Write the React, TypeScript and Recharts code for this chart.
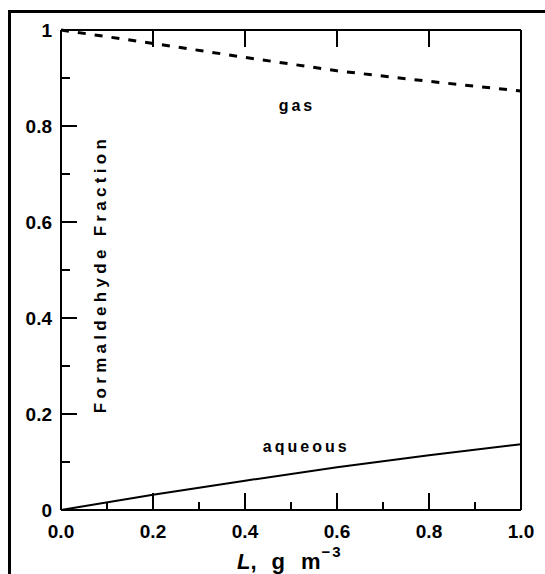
import { LineChart, Line, XAxis, YAxis, ReferenceDot } from "recharts";

// liquid water content L (g m^-3) and the formaldehyde split
const loading = [0, 0.2, 0.4, 0.6, 0.8, 1.0];
const gasFraction = [1, 0.972, 0.943, 0.915, 0.893, 0.873];
const aqueousFraction = [0, 0.032, 0.061, 0.089, 0.114, 0.137];

const bottomTicks = [0, 0.1, 0.2, 0.3, 0.4, 0.5, 0.6, 0.7, 0.8, 0.9, 1.0];
const leftTicks = [0, 0.1, 0.2, 0.3, 0.4, 0.5, 0.6, 0.7, 0.8, 0.9, 1.0];
const topTicks = [0.2, 0.4, 0.6, 0.8];
const rightTicks = [0.5, 1, 1.5, 2, 2.5, 3, 3.5, 4, 4.5, 5];

const data = loading.map((L, i) => ({
  L,
  gas: gasFraction[i],
  aqueous: aqueousFraction[i],
}));

const FONT = "'Liberation Sans', Arial, Helvetica, sans-serif";
const W = 545;
const H = 574;
const LEFT_W = 61;
const RIGHT_W = 24;
const TOP_H = 30;
const BOTTOM_H = 64;
const PLOT_W = W - LEFT_W - RIGHT_W;

const isMajor = (v: number) => Math.round(v * 10) % 2 === 0;

const LeftTick = (props: any) => {
  const { x, y, payload } = props;
  const v = payload.value as number;
  const tenth = Math.round(v * 10);
  const label = tenth === 0 ? "0" : tenth === 10 ? "1" : v.toFixed(1);
  return (
    <g>
      <line x1={x} y1={y} x2={x + (isMajor(v) ? 16 : 9)} y2={y} stroke="#000" strokeWidth={2} />
      {tenth === 10 &&
        topTicks.map((t) => (
          <line key={t} x1={x + t * PLOT_W} y1={y} x2={x + t * PLOT_W} y2={y + 17} stroke="#000" strokeWidth={2} />
        ))}
      {isMajor(v) && (
        <text x={x - 9} y={y + 7} textAnchor="end" fontFamily={FONT} fontWeight="bold" fontSize={19} fill="#000">
          {label}
        </text>
      )}
    </g>
  );
};

const BottomTick = (props: any) => {
  const { x, y, payload } = props;
  const v = payload.value as number;
  return (
    <g>
      <line x1={x} y1={y} x2={x} y2={y - (isMajor(v) ? 17 : 8)} stroke="#000" strokeWidth={2} />
      {isMajor(v) && (
        <text x={x} y={y + 28} textAnchor="middle" fontFamily={FONT} fontWeight="bold" fontSize={19} fill="#000">
          {v.toFixed(1)}
        </text>
      )}
    </g>
  );
};

const TopTick = (props: any) => {
  const { x, y } = props;
  return <line x1={x} y1={y} x2={x} y2={y + 17} stroke="#000" strokeWidth={2} />;
};

const RightTick = (props: any) => {
  const { x, y, payload } = props;
  const whole = Number.isInteger(payload.value);
  return <line x1={x} y1={y} x2={x - (whole ? 16 : 8)} y2={y} stroke="#000" strokeWidth={2} />;
};

const YTitle = (props: any) => {
  const { viewBox } = props;
  const cx = viewBox.x + viewBox.width + 39;
  const cy = viewBox.y + viewBox.height / 2 + 4;
  return (
    <text
      x={cx}
      y={cy}
      transform={`rotate(-90, ${cx}, ${cy})`}
      textAnchor="middle"
      dominantBaseline="central"
      fontFamily={FONT}
      fontWeight="bold"
      fontSize={17}
      letterSpacing={4.3}
      fill="#000"
    >
      Formaldehyde Fraction
    </text>
  );
};

const XTitle = (props: any) => {
  const { viewBox } = props;
  const start = viewBox.x + viewBox.width / 2 - 54;
  return (
    <text x={start} y={viewBox.y + 59} fontFamily={FONT} fontWeight="bold" fontSize={22} fill="#000">
      <tspan fontStyle="italic">L</tspan>
      <tspan>,</tspan>
      <tspan dx={15}>g</tspan>
      <tspan dx={16}>m</tspan>
      <tspan dx={1} dy={-12} fontSize={15} letterSpacing={2}>−3</tspan>
    </text>
  );
};

const curveLabel = (text: string) => (props: any) => {
  const { viewBox } = props;
  return (
    <text
      x={viewBox.x + viewBox.width / 2}
      y={viewBox.y + viewBox.height / 2}
      textAnchor="middle"
      dominantBaseline="central"
      fontFamily={FONT}
      fontWeight="bold"
      fontSize={16}
      letterSpacing={3}
      fill="#000"
    >
      {text}
    </text>
  );
};

export default function App() {
  return (
    <div style={{ position: "absolute", left: 0, top: 0, width: W, height: H, overflow: "hidden", background: "#fff" }}>
      <div
        style={{
          position: "absolute",
          left: 8,
          top: 10,
          width: 600,
          height: 600,
          borderLeft: "3px solid #000",
          borderTop: "3px solid #000",
        }}
      />
      <div style={{ position: "absolute", left: 0, top: 0 }}>
        <LineChart width={W} height={H} data={data} margin={{ top: 0, right: 0, bottom: 0, left: 0 }}>
          <XAxis
            dataKey="L"
            type="number"
            domain={[0, 1]}
            ticks={bottomTicks}
            interval={0}
            height={BOTTOM_H}
            tickSize={0}
            tickMargin={0}
            tickLine={false}
            axisLine={{ stroke: "#000", strokeWidth: 2 }}
            tick={BottomTick}
            label={{ content: XTitle }}
          />
          <XAxis
            xAxisId="top"
            dataKey="L"
            orientation="top"
            type="number"
            domain={[0, 1]}
            ticks={topTicks}
            interval={0}
            height={TOP_H}
            tickSize={0}
            tickMargin={0}
            tickLine={false}
            axisLine={{ stroke: "#000", strokeWidth: 2 }}
            tick={TopTick}
          />
          <YAxis
            type="number"
            domain={[0, 1]}
            ticks={leftTicks}
            interval={0}
            width={LEFT_W}
            tickSize={0}
            tickMargin={0}
            tickLine={false}
            axisLine={{ stroke: "#000", strokeWidth: 2 }}
            tick={LeftTick}
            label={{ content: YTitle }}
          />
          <YAxis
            yAxisId="right"
            orientation="right"
            type="number"
            domain={[0, 5.48]}
            ticks={rightTicks}
            interval={0}
            width={RIGHT_W}
            tickSize={0}
            tickMargin={0}
            tickLine={false}
            axisLine={{ stroke: "#000", strokeWidth: 2 }}
            tick={RightTick}
          />
          <Line
            xAxisId="top"
            dataKey="gas"
            type="linear"
            stroke="#000"
            strokeWidth={3}
            strokeDasharray="8 9"
            dot={false}
            isAnimationActive={false}
          />
          <Line
            dataKey="aqueous"
            type="linear"
            stroke="#000"
            strokeWidth={2}
            dot={false}
            isAnimationActive={false}
          />
          <ReferenceDot x={0.513} y={0.842} r={0} fill="none" stroke="none" label={{ content: curveLabel("gas") }} />
          <ReferenceDot x={0.533} y={0.133} r={0} fill="none" stroke="none" label={{ content: curveLabel("aqueous") }} />
        </LineChart>
      </div>
    </div>
  );
}
